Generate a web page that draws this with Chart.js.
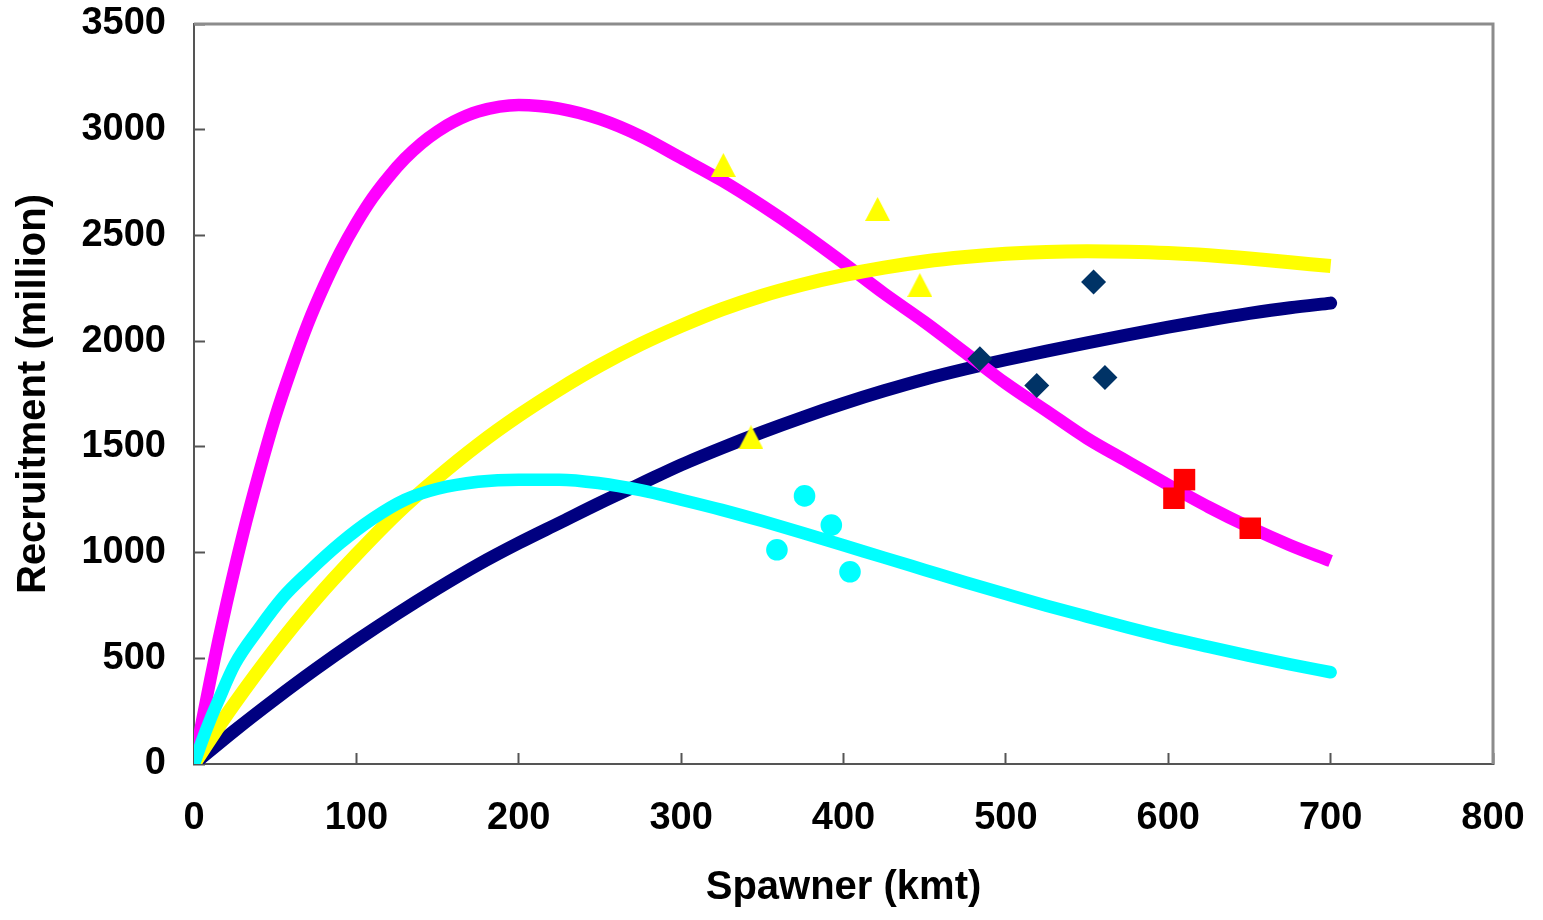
<!DOCTYPE html>
<html>
<head>
<meta charset="utf-8">
<script src="https://cdn.jsdelivr.net/npm/chart.js@4.4.1/dist/chart.umd.min.js"></script>
<style>html,body{margin:0;padding:0;background:#fff;overflow:hidden}</style>
</head>
<body>
<canvas id="c" width="1543" height="920"></canvas>
<script>
// ---- tick labels ----
const xTickValues = [0, 100, 200, 300, 400, 500, 600, 700, 800];
const yTickValues = [0, 500, 1000, 1500, 2000, 2500, 3000, 3500];

// ---- fitted curves ----
const magentaS = [0,5,10,15,20,30,40,50,60,70,80,90,100,110,120,130,140,150,160,175,200,225,250,275,300,325,350,375,400,425,450,475,500,525,550,575,600,625,650,675,700];
const magentaR = [0,204,398,583,758,1082,1373,1640,1870,2080,2260,2420,2558,2678,2778,2864,2935,2992,3038,3086,3117,3100,3050,2970,2866,2760,2640,2510,2370,2225,2090,1945,1800,1670,1540,1430,1320,1215,1120,1035,960];

const navyS = [0,25,50,75,100,125,150,175,200,225,250,275,300,325,350,375,400,425,450,475,500,525,550,575,600,625,650,675,700];
const navyR = [0,158,307,449,583,710,830,943,1045,1140,1235,1325,1415,1495,1570,1640,1705,1765,1820,1868,1912,1953,1992,2030,2066,2100,2131,2158,2180];

const yellowS = [0,10,25,50,75,100,125,150,175,200,225,250,275,300,325,350,375,400,425,450,475,500,525,550,575,600,625,650,675,700];
const yellowR = [0,118,286,545,780,990,1185,1355,1510,1648,1772,1885,1985,2072,2150,2215,2268,2312,2348,2377,2398,2413,2422,2425,2423,2417,2406,2391,2373,2355];

const cyanS = [0,5,10,15,25,40,55,70,90,110,130,150,175,200,225,250,275,300,325,350,375,400,425,450,475,500,525,550,575,600,625,650,675,700];
const cyanR = [0,110,210,300,470,640,790,905,1044,1160,1250,1302,1335,1345,1345,1328,1295,1250,1202,1149,1093,1035,976,918,860,804,749,697,646,598,554,511,471,434];

// ---- observed points ----
const triS = [326, 421, 447, 343];
const triR = [2833, 2625, 2265, 1545];
const diaS = [554, 484, 519, 561];
const diaR = [2280, 1917, 1790, 1828];
const sqS = [610, 603.5, 650.5];
const sqR = [1345, 1257, 1115];
const circS = [376, 392.5, 359, 404];
const circR = [1268, 1130, 1013, 909];

const pts = (xs, ys) => xs.map((x, i) => ({x: x, y: ys[i]}));

// isoceles triangle marker like the spreadsheet one
const tri = document.createElement('canvas');
tri.width = 25; tri.height = 24;
(function(){
  const g = tri.getContext('2d');
  g.fillStyle = '#FFFF00';
  g.beginPath(); g.moveTo(12.5, 0); g.lineTo(25, 24); g.lineTo(0, 24); g.closePath(); g.fill();
})();

const FONT = '"Liberation Sans", Arial, Helvetica, sans-serif';

const framePlugin = {
  id: 'frame',
  beforeDatasetsDraw(chart) {
    const a = chart.chartArea, ctx = chart.ctx;
    ctx.save();
    ctx.strokeStyle = '#8c8c8c';
    ctx.lineWidth = 3;
    ctx.beginPath();
    ctx.moveTo(a.left, a.top);
    ctx.lineTo(a.right, a.top);
    ctx.lineTo(a.right, a.bottom);
    ctx.stroke();
    ctx.restore();
  }
};

const lineDs = (xs, ys, color, w, cap) => ({
  data: pts(xs, ys), showLine: true, borderColor: color, backgroundColor: color,
  borderWidth: w, pointRadius: 0, cubicInterpolationMode: 'monotone',
  borderCapStyle: cap, borderJoinStyle: 'round', fill: false
});

const noPad = s => { s.paddingTop = 0; s.paddingBottom = 0; s.paddingLeft = 0; s.paddingRight = 0; };

new Chart(document.getElementById('c'), {
  type: 'scatter',
  data: {
    datasets: [
      { data: pts(diaS, diaR), pointStyle: 'rectRot', pointRadius: 12.5, backgroundColor: '#003366', borderWidth: 0 },
      { data: pts(triS, triR), pointStyle: tri, pointRadius: 12, backgroundColor: '#FFFF00', borderWidth: 0 },
      { data: pts(sqS, sqR), pointStyle: 'rect', pointRadius: 15.2, backgroundColor: '#FF0000', borderWidth: 0 },
      { data: pts(circS, circR), pointStyle: 'circle', pointRadius: 10.8, backgroundColor: '#00FFFF', borderWidth: 0 },
      lineDs(cyanS, cyanR, '#00FFFF', 12.5, 'round'),
      lineDs(yellowS, yellowR, '#FFFF00', 14, 'butt'),
      lineDs(magentaS, magentaR, '#FF00FF', 12.5, 'butt'),
      lineDs(navyS, navyR, '#000080', 13, 'round')
    ]
  },
  options: {
    responsive: false,
    animation: false,
    events: [],
    layout: { padding: { top: 24, right: 50, left: 0, bottom: 0 } },
    plugins: { legend: { display: false }, tooltip: { enabled: false } },
    scales: {
      x: {
        type: 'linear', min: 0, max: 800,
        afterBuildTicks: s => { s.ticks = xTickValues.map(v => ({value: v})); },
        afterFit: s => { s.height = 156; noPad(s); },
        ticks: { color: '#000', padding: 43, callback: v => String(v), font: { family: FONT, size: 38, weight: 'bold' } },
        grid: { drawOnChartArea: false, drawTicks: true, tickLength: -11, tickColor: '#555', tickWidth: 2 },
        border: { display: true, color: '#555', width: 2 },
        title: { display: true, text: 'Spawner (kmt)', color: '#000', font: { family: FONT, size: 40, weight: 'bold' }, padding: { top: 0, bottom: 8 } }
      },
      y: {
        type: 'linear', min: 0, max: 3500,
        afterBuildTicks: s => { s.ticks = yTickValues.map(v => ({value: v})); },
        afterFit: s => { s.width = 194; noPad(s); },
        ticks: { color: '#000', padding: 39, callback: v => String(v), font: { family: FONT, size: 38, weight: 'bold' } },
        grid: { drawOnChartArea: false, drawTicks: true, tickLength: -11, tickColor: '#555', tickWidth: 2 },
        border: { display: true, color: '#555', width: 2 },
        title: { display: true, text: 'Recruitment (million)', color: '#000', font: { family: FONT, size: 40, weight: 'bold' }, padding: { top: 10, bottom: 0 } }
      }
    }
  },
  plugins: [framePlugin]
});
</script>
</body>
</html>
